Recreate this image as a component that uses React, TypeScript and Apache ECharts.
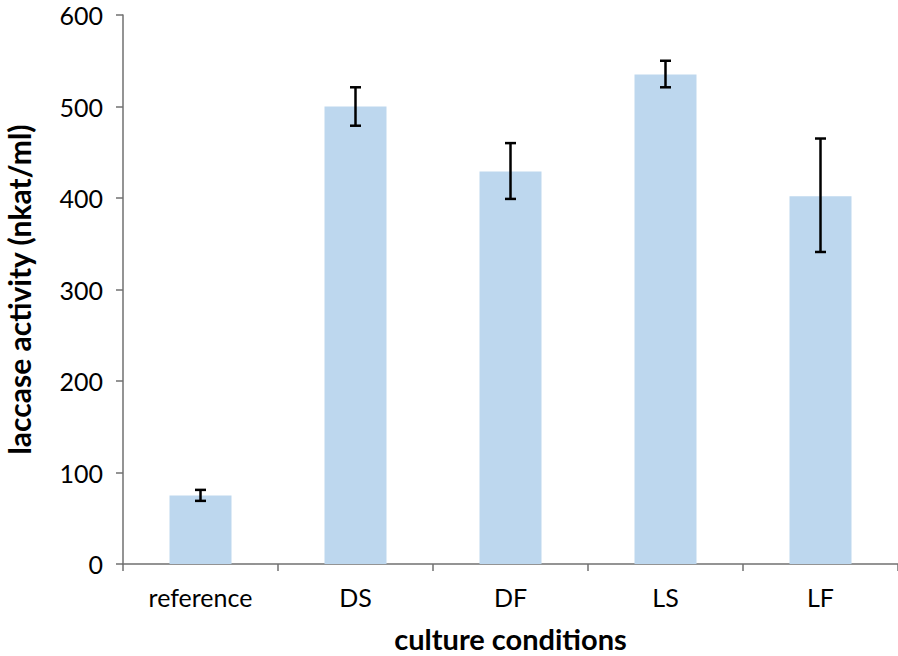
import React, { useEffect, useRef } from "react";
import * as echarts from "echarts";

const categories = ["reference", "DS", "DF", "LS", "LF"];
const activity = [75, 500, 429, 535, 402];
const errLow = [69, 479, 399, 521, 341];
const errHigh = [81, 521, 460, 550, 465];
const yTicks = { min: 0, max: 600, interval: 100 };

export default function App() {
  const ref = useRef<HTMLDivElement>(null);
  useEffect(() => {
    const chart = echarts.init(ref.current!, null, { renderer: "svg" });
    const font = "Lato, 'Open Sans', sans-serif";
    chart.setOption({
      animation: false,
      grid: { left: 123, right: 0, top: 15, bottom: 92, outerBoundsMode: "none", containLabel: false },
      xAxis: {
        type: "category",
        data: categories,
        name: "culture conditions",
        nameLocation: "middle",
        nameGap: 60,
        nameTextStyle: { fontFamily: font, fontSize: 29, fontWeight: "bold", color: "#000" },
        axisLine: { lineStyle: { color: "#707070", width: 1.5 } },
        axisTick: { show: true, length: 7, alignWithLabel: false, lineStyle: { color: "#707070", width: 1.5 } },
        axisLabel: { fontFamily: font, fontSize: 25, color: "#000", margin: 20 },
      },
      yAxis: {
        type: "value",
        min: yTicks.min,
        max: yTicks.max,
        interval: yTicks.interval,
        name: "laccase activity (nkat/ml)",
        nameLocation: "middle",
        nameGap: 89,
        nameTextStyle: { fontFamily: font, fontSize: 30, fontWeight: "bold", color: "#000" },
        axisLine: { show: true, lineStyle: { color: "#707070", width: 1.5 } },
        axisTick: { show: true, length: 7, lineStyle: { color: "#707070", width: 1.5 } },
        splitLine: { show: false },
        axisLabel: { fontFamily: font, fontSize: 25, color: "#000", margin: 20 },
      },
      series: [
        {
          type: "bar",
          data: activity,
          barWidth: "40%",
          itemStyle: { color: "#bdd7ee" },
        },
        {
          type: "custom",
          data: categories.map((_, i) => [i, errLow[i], errHigh[i]]),
          renderItem: (params: any, api: any) => {
            const x = api.value(0);
            const lo = api.coord([x, api.value(1)]);
            const hi = api.coord([x, api.value(2)]);
            const hw = 5.5;
            const style = { stroke: "#000", lineWidth: 2.5 };
            return {
              type: "group",
              children: [
                { type: "line", shape: { x1: lo[0], y1: lo[1], x2: hi[0], y2: hi[1] }, style },
                { type: "line", shape: { x1: lo[0] - hw, y1: lo[1], x2: lo[0] + hw, y2: lo[1] }, style },
                { type: "line", shape: { x1: hi[0] - hw, y1: hi[1], x2: hi[0] + hw, y2: hi[1] }, style },
              ],
            };
          },
          z: 10,
        },
      ],
    });
    return () => chart.dispose();
  }, []);
  return <div ref={ref} style={{ width: 898, height: 656, position: "absolute", left: 0, top: 0 }} />;
}
